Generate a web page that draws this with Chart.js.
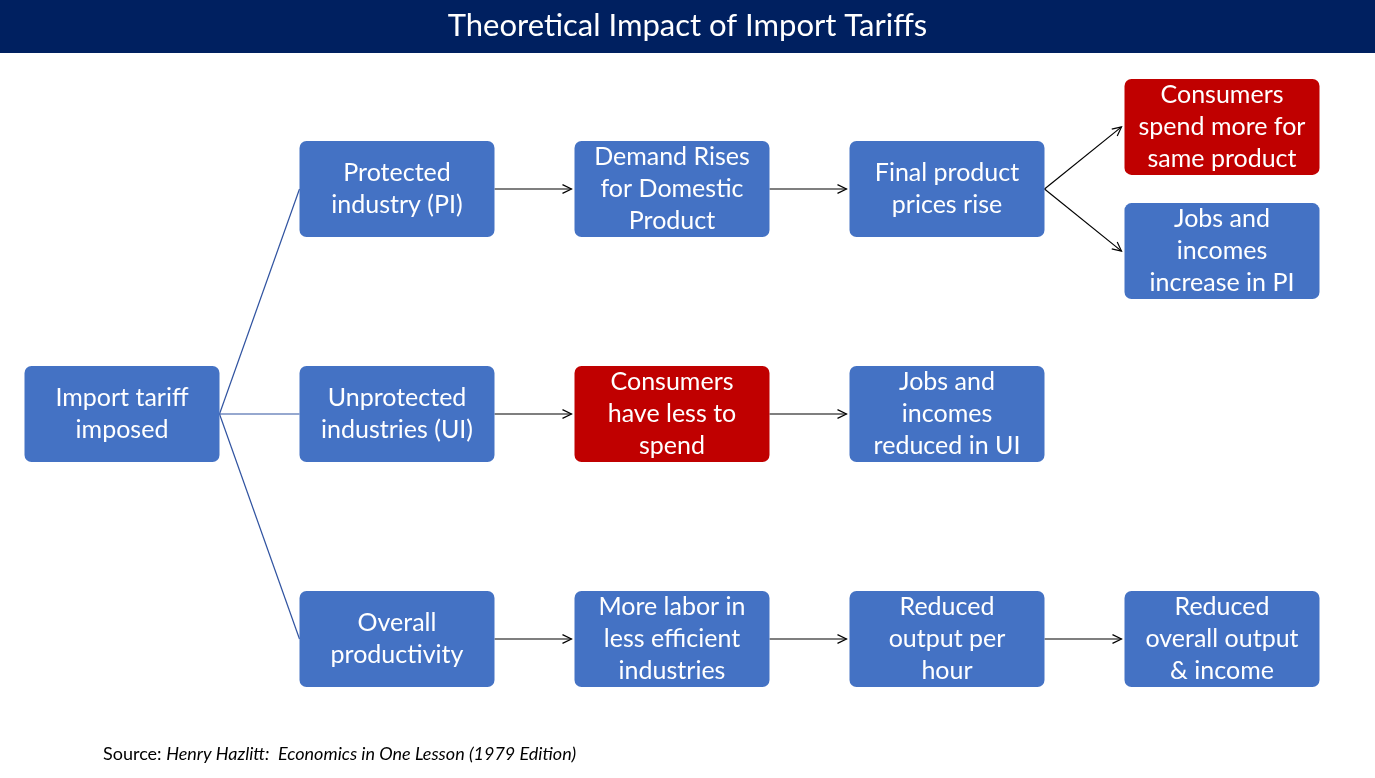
<!DOCTYPE html>
<html>
<head>
<meta charset="utf-8">
<script src="https://cdn.jsdelivr.net/npm/chart.js@4"></script>
<style>
  html, body { margin: 0; padding: 0; background: #fff; }
  #wrap { width: 1375px; height: 778px; position: relative; }
</style>
</head>
<body>
<div id="wrap"><canvas id="myChart" width="1375" height="778"></canvas></div>
<script>
// Flowchart nodes: column, row, label lines, fill
const nodeLabels = [
  ["Import tariff", "imposed"],
  ["Protected", "industry (PI)"],
  ["Demand Rises", "for Domestic", "Product"],
  ["Final product", "prices rise"],
  ["Consumers", "spend more for", "same product"],
  ["Jobs and", "incomes", "increase in PI"],
  ["Unprotected", "industries (UI)"],
  ["Consumers", "have less to", "spend"],
  ["Jobs and", "incomes", "reduced in UI"],
  ["Overall", "productivity"],
  ["More labor in", "less efficient", "industries"],
  ["Reduced", "output per", "hour"],
  ["Reduced", "overall output", "& income"]
];
const nodeCols = [0, 1, 2, 3, 4, 4, 1, 2, 3, 1, 2, 3, 4];
const nodeRows = [1, 0, 0, 0, -0.276, 0.276, 1, 1, 1, 2, 2, 2, 2];
const nodeRed  = [false, false, false, false, true, false, false, true, false, false, false, false, false];

// Connections: [from, to]; plain lines from the root, arrows elsewhere
const plainLinks = [[0, 1], [0, 6], [0, 9]];
const arrowLinks = [[1, 2], [2, 3], [3, 4], [3, 5], [6, 7], [7, 8], [9, 10], [10, 11], [11, 12]];

const BOX_W = 195, BOX_H = 96;

const flowPlugin = {
  id: "flow",
  afterDatasetsDraw(chart) {
    const c = chart.ctx;
    const xs = chart.scales.x, ys = chart.scales.y;
    const px = i => xs.getPixelForValue(nodeCols[i]);
    const py = i => ys.getPixelForValue(nodeRows[i]);

    c.save();
    // root lines
    c.strokeStyle = "#2F52A0";
    c.lineWidth = 1.2;
    plainLinks.forEach(([a, b]) => {
      c.beginPath();
      c.moveTo(px(a) + BOX_W / 2, py(a));
      c.lineTo(px(b) - BOX_W / 2, py(b));
      c.stroke();
    });
    // arrows
    c.strokeStyle = "#000";
    c.fillStyle = "#000";
    arrowLinks.forEach(([a, b]) => {
      const x1 = px(a) + BOX_W / 2, y1 = py(a);
      const x2 = px(b) - BOX_W / 2 - 3, y2 = py(b);
      c.beginPath();
      c.moveTo(x1, y1);
      c.lineTo(x2, y2);
      c.stroke();
      const ang = Math.atan2(y2 - y1, x2 - x1);
      c.beginPath();
      c.moveTo(x2 - 10 * Math.cos(ang - 0.45), y2 - 10 * Math.sin(ang - 0.45));
      c.lineTo(x2, y2);
      c.lineTo(x2 - 10 * Math.cos(ang + 0.45), y2 - 10 * Math.sin(ang + 0.45));
      c.stroke();
    });
    // boxes
    nodeLabels.forEach((lines, i) => {
      const cx = px(i), cy = py(i);
      c.fillStyle = nodeRed[i] ? "#C00000" : "#4472C4";
      c.beginPath();
      c.roundRect(cx - BOX_W / 2, cy - BOX_H / 2, BOX_W, BOX_H, 7);
      c.fill();
      c.fillStyle = "#fff";
      c.font = "25px Lato, 'Open Sans', sans-serif";
      c.textAlign = "center";
      c.textBaseline = "middle";
      const lh = 32;
      lines.forEach((t, k) => {
        c.fillText(t, cx, cy + (k - (lines.length - 1) / 2) * lh);
      });
    });
    c.restore();
  }
};

const titlePlugin = {
  id: "header",
  beforeDraw(chart) {
    const c = chart.ctx;
    c.save();
    c.fillStyle = "#fff";
    c.fillRect(0, 0, chart.width, chart.height);
    c.fillStyle = "#002060";
    c.fillRect(0, 0, chart.width, 53);
    c.fillStyle = "#fff";
    c.font = "31px Lato, 'Open Sans', sans-serif";
    c.textAlign = "center";
    c.textBaseline = "middle";
    c.fillText("Theoretical Impact of Import Tariffs", chart.width / 2, 26);
    // source
    c.fillStyle = "#000";
    c.textAlign = "left";
    c.font = "18px Lato, 'Open Sans', sans-serif";
    const s = "Source: ";
    c.fillText(s, 103, 754);
    const w = c.measureText(s).width;
    c.font = "italic 18px Lato, 'Open Sans', sans-serif";
    c.fillText("Henry Hazlitt:  Economics in One Lesson (1979 Edition)", 103 + w, 754);
    c.restore();
  }
};

const ctx = document.getElementById("myChart").getContext("2d");
const myChart = new Chart(ctx, {
  type: "scatter",
  data: {
    datasets: [{
      data: nodeCols.map((x, i) => ({ x: x, y: nodeRows[i] })),
      pointRadius: 0
    }]
  },
  options: {
    responsive: false,
    animation: false,
    layout: { padding: 0 },
    scales: {
      x: { display: false, min: -122 / 275, max: (1375 - 122) / 275 },
      y: { display: false, reverse: true, min: -189 / 225, max: (778 - 189) / 225 }
    },
    plugins: { legend: { display: false }, tooltip: { enabled: false } }
  },
  plugins: [titlePlugin, flowPlugin]
});
</script>
</body>
</html>
